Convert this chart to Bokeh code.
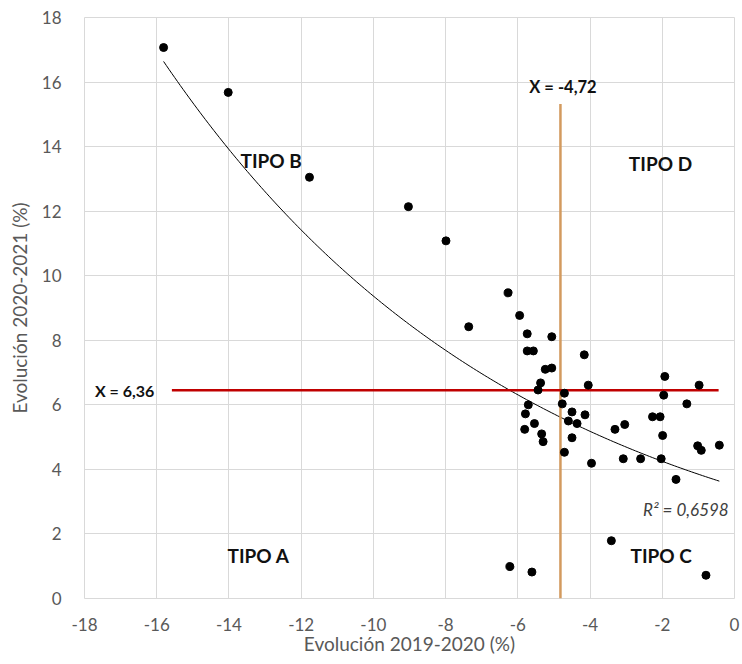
import numpy as np
from bokeh.plotting import figure
from bokeh.models import Range1d, FixedTicker, CustomJSTickFormatter
from bokeh.core.properties import value
from bokeh.embed import file_html
from bokeh.resources import INLINE

# ---- data ----
evol_2019_2020 = [-15.81, -14.02, -11.77, -9.03, -7.99, -7.36, -6.27, -5.95, -5.74, -5.74,
                  -5.57, -5.06, -5.24, -5.06, -4.16, -5.37, -5.44, -4.05, -1.93, -0.98,
                  -4.71, -1.96, -5.71, -4.77, -1.32, -5.79, -4.50, -4.14, -2.27, -2.06,
                  -5.54, -4.60, -4.36, -5.81, -5.34, -3.04, -3.31, -1.99, -5.30, -4.50,
                  -1.02, -0.92, -0.42, -4.71, -3.96, -3.08, -2.60, -2.03, -1.62, -6.22,
                  -5.61, -3.41, -0.79]
evol_2020_2021 = [17.07, 15.68, 13.05, 12.14, 11.08, 8.42, 9.47, 8.77, 8.20, 7.67,
                  7.67, 8.11, 7.10, 7.14, 7.55, 6.68, 6.46, 6.61, 6.88, 6.61,
                  6.36, 6.30, 6.00, 6.03, 6.03, 5.72, 5.78, 5.69, 5.63, 5.63,
                  5.42, 5.50, 5.42, 5.24, 5.10, 5.39, 5.24, 5.05, 4.86, 4.98,
                  4.73, 4.59, 4.75, 4.53, 4.19, 4.33, 4.33, 4.33, 3.69, 0.99,
                  0.82, 1.79, 0.72]

x_ticks = list(range(-18, 1, 2))
y_ticks = list(range(0, 19, 2))

quadrant_labels = ["TIPO B", "TIPO D", "TIPO A", "TIPO C"]
threshold_x_label = "X = -4,72"
threshold_y_label = "X = 6,36"
r2_label = "R\u00b2 = 0,6598"

FONT = value("Lato")

p = figure(frame_width=650, frame_height=581,
           min_border_left=84, min_border_right=6, min_border_top=17, min_border_bottom=63,
           x_range=Range1d(-18, 0), y_range=Range1d(0, 18),
           output_backend="svg", toolbar_location=None,
           background_fill_color="white", border_fill_color="white")

p.outline_line_color = "#D9D9D9"
for g in (p.xgrid, p.ygrid):
    g.grid_line_color = "#D9D9D9"
    g.grid_line_width = 1
p.xaxis.ticker = FixedTicker(ticks=x_ticks)
p.yaxis.ticker = FixedTicker(ticks=y_ticks)
for ax in (p.xaxis, p.yaxis):
    ax.formatter = CustomJSTickFormatter(code="return tick.toFixed(0);")
    ax.axis_line_color = None
    ax.major_tick_line_color = None
    ax.minor_tick_line_color = None
    ax.major_label_text_font = "Lato"
    ax.major_label_text_font_size = "17px"
    ax.major_label_text_color = "#595959"
    ax.axis_label_text_font = "Lato"
    ax.axis_label_text_font_size = "19px"
    ax.axis_label_text_font_style = "normal"
    ax.axis_label_text_color = "#595959"
p.xaxis.axis_label = "Evolución 2019-2020 (%)"
p.yaxis.axis_label = "Evolución 2020-2021 (%)"
p.xaxis.major_label_standoff = 13
p.xaxis.axis_label_standoff = -2
p.yaxis.major_label_standoff = 17
p.yaxis.axis_label_standoff = 8

# exponential trend line fitted from the data (as Excel does: ln y = c + b x)
xa = np.array(evol_2019_2020)
ya = np.array(evol_2020_2021)
b, c = np.polyfit(xa, np.log(ya), 1)
xt = np.linspace(xa.min(), xa.max(), 200)
p.line(xt, np.exp(c) * np.exp(b * xt), line_color="black", line_width=1)

# threshold lines
p.line([-4.82, -4.82], [0, 15.32], line_color="#D39A5E", line_width=2.5)
p.line([-15.58, -0.44], [6.45, 6.45], line_color="#C00000", line_width=2.5)

# points
p.scatter(evol_2019_2020, evol_2020_2021, size=8, marker="circle",
          fill_color="black", line_color="black")

# quadrant labels
p.text(x=[-12.83, -2.05, -13.18, -2.03], y=[13.58, 13.49, 1.32, 1.32], text=quadrant_labels,
       text_font=FONT, text_font_size="19px", text_font_style="bold", text_color="#111111",
       text_align="center", text_baseline="middle")
p.text(x=[-4.75], y=[15.85], text=[threshold_x_label], text_font=FONT, text_font_size="16.5px",
       text_font_style="bold", text_color="#111111", text_align="center", text_baseline="middle")
p.text(x=[-16.89], y=[6.44], text=[threshold_y_label], text_font=FONT, text_font_size="16px",
       text_font_style="bold", text_color="#111111", text_align="center", text_baseline="middle")
p.text(x=[-0.16], y=[2.77], text=[r2_label], text_font=FONT, text_font_size="17px",
       text_font_style="italic", text_color="#404040", text_align="right", text_baseline="middle")

open("out.html", "w").write(file_html(p, INLINE))
